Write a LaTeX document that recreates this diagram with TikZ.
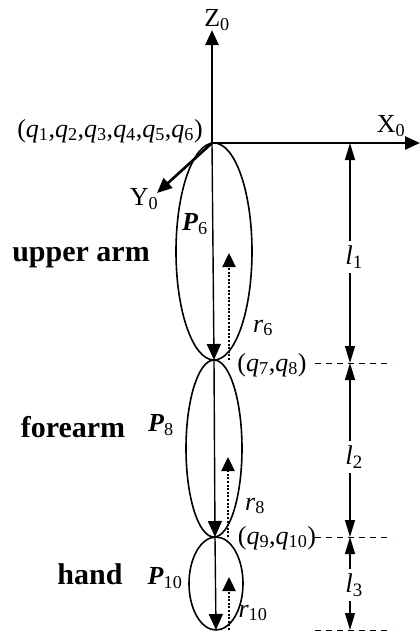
\documentclass[tikz,border=0pt]{standalone}
\usepackage{fontspec}
\setmainfont{Liberation Serif}
\usetikzlibrary{arrows.meta,shapes.geometric}
\newcommand\sbs[1]{\textsubscript{#1}}
\begin{document}
\begin{tikzpicture}[x=1pt,y=-1pt,
 axis/.style={line width=2.6pt,-{Triangle[length=15pt,width=13pt]}},
 limb/.style={draw,ellipse,line width=1.6pt,inner sep=0pt},
 pvec/.style={line width=1.4pt,-{Triangle[length=16pt,width=14pt]}},
 rvec/.style={line width=2.4pt,dash pattern=on 2pt off 1.6pt,-{Triangle[length=14pt,width=13pt]}},
 dimtip/.style={line width=1.3pt,-{Triangle[length=17pt,width=10pt]}},
 guide/.style={line width=1pt,dash pattern=on 6pt off 5pt},
 lbl/.style={font=\fontsize{26}{30}\selectfont,inner sep=0pt},
 dlbl/.style={font=\fontsize{27}{30}\selectfont,inner xsep=0pt,inner ysep=4pt},
 part/.style={font=\fontsize{30}{34}\selectfont\bfseries,inner sep=0pt}]
\useasboundingbox (0,0) rectangle (420,633);
% joints
\coordinate (O) at (212,143);
\coordinate (J1) at (214,360);
\coordinate (J2) at (215,537);
\coordinate (J3) at (216,630);
% axes
\coordinate (Zt) at (212,30);
\coordinate (Xt) at (420,143);
\coordinate (Yt) at (157,193);
\node[lbl] (Zl) at (217,20) {Z\sbs{0}};
\node[lbl] (Xl) at (391,126) {X\sbs{0}};
\node[lbl] (Yl) at (144,199) {Y\sbs{0}};
\node[lbl] (q16) at (110,131) {(\textit{q}\sbs{1},\textit{q}\sbs{2},\textit{q}\sbs{3},\textit{q}\sbs{4},\textit{q}\sbs{5},\textit{q}\sbs{6})};
% limbs
\node[limb,minimum width=76pt,minimum height=217pt] (ua) at (214,251.5) {};
\node[limb,minimum width=56pt,minimum height=177pt] (fa) at (214,448.5) {};
\node[limb,minimum width=54pt,minimum height=93pt] (hd) at (216,583.5) {};
\draw[axis] (O) -- (Zt);
\draw[axis] (O) -- (Xt);
\draw[axis] (O) -- (Yt);
% position vectors
\draw[pvec] (O) -- (J1);
\draw[pvec] (J1) -- (J2);
\draw[pvec] (J2) -- (J3);
% dotted vectors
\coordinate (r6a) at (229,360); \coordinate (r6b) at (229,253);
\coordinate (r8a) at (228,537); \coordinate (r8b) at (228,457);
\coordinate (r10a) at (229,630); \coordinate (r10b) at (229,577);
\draw[rvec] (r6a) -- (r6b);
\draw[rvec] (r8a) -- (r8b);
\draw[rvec] (r10a) -- (r10b);
% labels
\node[part] (uat) at (81,258) {upper arm};
\node[part] (fat) at (73,427) {forearm};
\node[part] (hdt) at (90,574) {hand};
\node[lbl] (P6) at (195,224) {\textbf{\textit{P}}\sbs{6}};
\node[lbl] (P8) at (161,425) {\textbf{\textit{P}}\sbs{8}};
\node[lbl] (P10) at (165,578) {\textbf{\textit{P}}\sbs{10}};
\node[lbl] (r6) at (263,328) {\textit{r}\sbs{6}};
\node[lbl] (r8) at (255,506) {\textit{r}\sbs{8}};
\node[lbl] (r10) at (253,613) {\textit{r}\sbs{10}};
\node[lbl] (q78) at (272,365) {(\textit{q}\sbs{7},\textit{q}\sbs{8})};
\node[lbl] (q910) at (277,538) {(\textit{q}\sbs{9},\textit{q}\sbs{10})};
% guides
\coordinate (g1a) at (315,363); \coordinate (g1b) at (392,363);
\coordinate (g2a) at (315,537); \coordinate (g2b) at (392,537);
\coordinate (g3a) at (315,630); \coordinate (g3b) at (392,630);
\draw[guide] (g1a) -- (g1b);
\draw[guide] (g2a) -- (g2b);
\draw[guide] (g3a) -- (g3b);
% dimensions
\coordinate (d0) at (350,143);
\coordinate (d1) at (350,363);
\coordinate (d2) at (350,537);
\coordinate (d3) at (350,630);
\node[dlbl] (l1) at (354,257) {\textit{l}\sbs{1}};
\node[dlbl] (l2) at (354,457) {\textit{l}\sbs{2}};
\node[dlbl] (l3) at (354,585) {\textit{l}\sbs{3}};
\draw[dimtip] (l1.north -| d0) -- (d0);
\draw[dimtip] (l1.south -| d0) -- (d1);
\draw[dimtip] (l2.north -| d0) -- (d1);
\draw[dimtip] (l2.south -| d0) -- (d2);
\draw[dimtip] (l3.north -| d0) -- (d2);
\draw[dimtip] (l3.south -| d0) -- (d3);
\end{tikzpicture}
\end{document}
